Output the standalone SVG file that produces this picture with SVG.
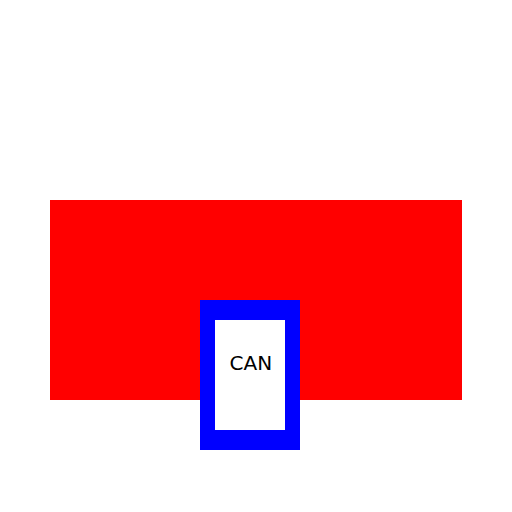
<svg xmlns="http://www.w3.org/2000/svg" width="512" height="512" viewBox="0 0 512 512">
<style>
.lbl{font-family:"DejaVu Sans",sans-serif;font-size:20px;fill:#000}
</style>
<rect width="512" height="512" fill="#fff"/>
<g id="area"><rect x="50" y="200" width="412" height="200" fill="#f00"/></g>
<g id="can">
<rect x="200" y="300" width="100" height="150" fill="#00f"/>
<rect x="215" y="320" width="70" height="110" fill="#fff"/>
<text class="lbl" x="229.5" y="370">CAN</text>
</g>
<g id="connectors"/>
</svg>
